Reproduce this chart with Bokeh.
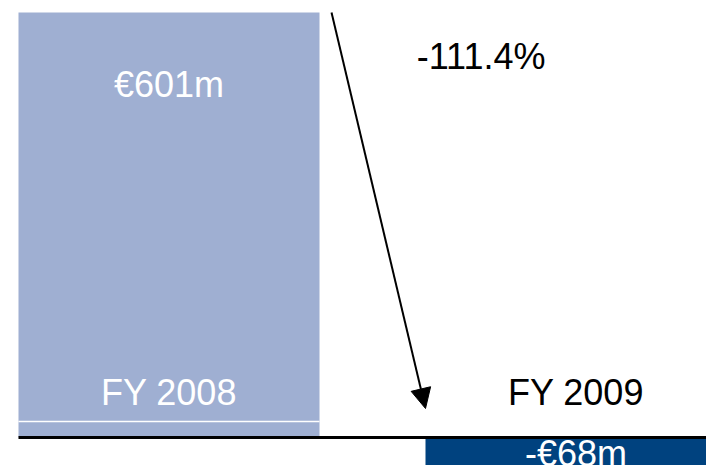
from bokeh.plotting import figure
from bokeh.models import Range1d, Arrow, NormalHead, ColumnDataSource
from bokeh.core.properties import value
from bokeh.embed import file_html
from bokeh.resources import INLINE

# Data
years = ["FY 2008", "FY 2009"]
profits = [601, -68]
value_labels = ["€601m", "-€68m"]
change_label = "-111.4%"
bar_colors = ["#9FAFD2", "#00427F"]
label_colors = ["white", "black"]
value_label_colors = ["white", "white"]

W, H = 706, 465
X0, X1 = -0.4140, 1.3206
p = figure(width=W, height=H, output_backend="svg", toolbar_location=None,
           x_range=Range1d(X0, X1), y_range=Range1d(-39.6, 617.96),
           min_border=0, outline_line_color=None)
p.axis.visible = False
p.xgrid.visible = False
p.ygrid.visible = False
p.background_fill_color = "white"
p.border_fill_color = "white"

xs = list(range(len(years)))
bw = 0.7396
src = ColumnDataSource(dict(x=xs, top=profits, color=bar_colors))
p.vbar(x="x", top="top", bottom=0, width=bw, fill_color="color", line_color=None, source=src)

# thin white separator inside first bar
p.segment(x0=[xs[0] - bw / 2], x1=[xs[0] + bw / 2], y0=[22.6], y1=[22.6],
          line_color="white", line_width=1.5)

# baseline
p.segment(x0=[xs[0] - bw / 2], x1=[X1], y0=[0], y1=[0], line_color="black", line_width=3)

font = value("Liberation Sans")
# year labels
p.text(x=xs, y=[64.3, 64.3], text=years, text_color=label_colors, text_font=font,
       text_font_size="36px", text_align="center", text_baseline="middle")
# value labels
p.text(x=xs, y=[499.2, -22.6], text=value_labels, text_color=value_label_colors, text_font=font,
       text_font_size="36px", text_align="center", text_baseline="middle")
# change label
p.text(x=[0.7668], y=[538.8], text=[change_label], text_color="black", text_font=font,
       text_font_size="36px", text_align="center", text_baseline="middle")

# arrow
p.add_layout(Arrow(end=NormalHead(size=20, fill_color="black", line_color="black"),
                   x_start=0.3993, y_start=profits[0], x_end=0.6302, y_end=41.0,
                   line_color="black", line_width=2))

open("out.html", "w").write(file_html(p, INLINE))
